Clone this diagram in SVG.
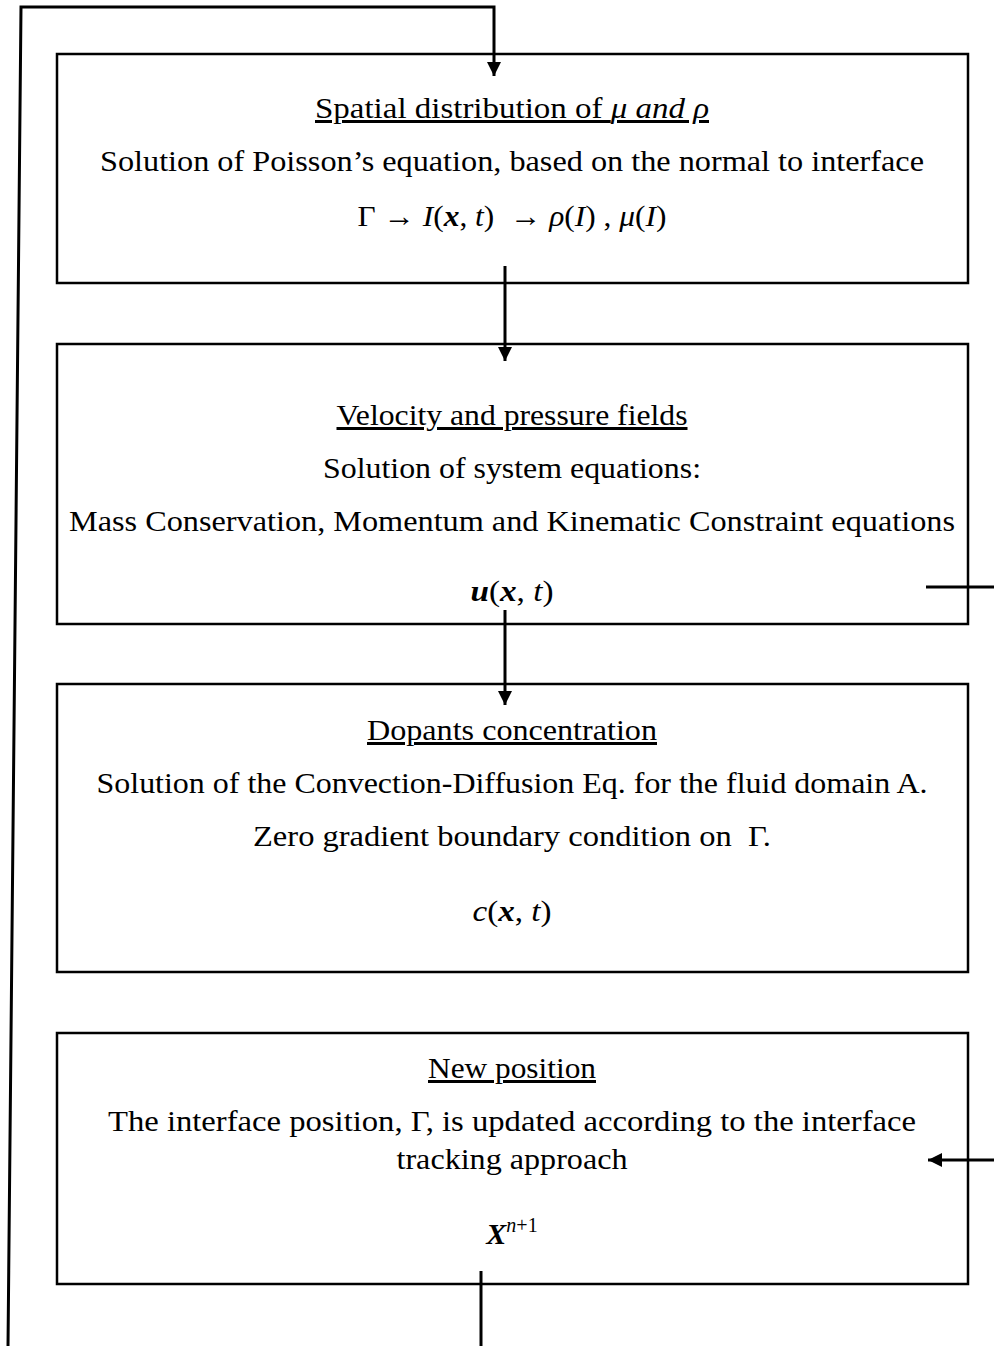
<svg xmlns="http://www.w3.org/2000/svg" width="994" height="1346" viewBox="0 0 994 1346">
<style>
.box{fill:#fff;stroke:#000;stroke-width:2.5}
.t{font-family:"Liberation Serif","DejaVu Serif",serif;font-size:30px;fill:#000;text-anchor:middle}
.u{text-decoration:underline}
.m{font-style:italic}
.b{font-style:italic;font-weight:bold}
.c{fill:none;stroke:#000;stroke-width:3}
</style>
<defs>
<marker id="ah" viewBox="0 0 10 10" refX="10" refY="5" markerWidth="14" markerHeight="14" markerUnits="userSpaceOnUse" orient="auto">
<path d="M0,0 L10,5 L0,10 z" fill="#000"/>
</marker>
</defs>
<rect width="994" height="1346" fill="#fff"/>
<g id="n1">
<rect class="box" x="57" y="54" width="911" height="229"/>
<text class="t u" x="512" y="118" textLength="394" lengthAdjust="spacingAndGlyphs">Spatial distribution of <tspan class="m">μ and ρ</tspan></text>
<text class="t" x="512" y="171" textLength="824" lengthAdjust="spacingAndGlyphs">Solution of Poisson’s equation, based on the normal to interface</text>
<text class="t" x="512" y="226" textLength="309" lengthAdjust="spacingAndGlyphs">Γ → <tspan class="m">I</tspan>(<tspan class="b">x</tspan>, <tspan class="m">t</tspan>)&#160; → <tspan class="m">ρ</tspan>(<tspan class="m">I</tspan>) , <tspan class="m">μ</tspan>(<tspan class="m">I</tspan>)</text>
</g>
<g id="n2">
<rect class="box" x="57" y="344" width="911" height="280"/>
<text class="t u" x="512" y="425" textLength="351" lengthAdjust="spacingAndGlyphs">Velocity and pressure fields</text>
<text class="t" x="512" y="478" textLength="378" lengthAdjust="spacingAndGlyphs">Solution of system equations:</text>
<text class="t" x="512" y="531" textLength="886" lengthAdjust="spacingAndGlyphs">Mass Conservation, Momentum and Kinematic Constraint equations</text>
<text class="t" x="512" y="601" textLength="83" lengthAdjust="spacingAndGlyphs"><tspan class="b">u</tspan>(<tspan class="b">x</tspan>, <tspan class="m">t</tspan>)</text>
</g>
<g id="n3">
<rect class="box" x="57" y="684" width="911" height="288"/>
<text class="t u" x="512" y="740" textLength="290" lengthAdjust="spacingAndGlyphs">Dopants concentration</text>
<text class="t" x="512" y="793" textLength="831" lengthAdjust="spacingAndGlyphs">Solution of the Convection-Diffusion Eq. for the fluid domain A.</text>
<text class="t" x="512" y="846" textLength="518" lengthAdjust="spacingAndGlyphs">Zero gradient boundary condition on&#160; Γ.</text>
<text class="t" x="512" y="921" textLength="79" lengthAdjust="spacingAndGlyphs"><tspan class="m">c</tspan>(<tspan class="b">x</tspan>, <tspan class="m">t</tspan>)</text>
</g>
<g id="n4">
<rect class="box" x="57" y="1033" width="911" height="251"/>
<text class="t u" x="512" y="1078" textLength="168" lengthAdjust="spacingAndGlyphs">New position</text>
<text class="t" x="512" y="1131" textLength="808" lengthAdjust="spacingAndGlyphs">The interface position, Γ, is updated according to the interface</text>
<text class="t" x="512" y="1169" textLength="231" lengthAdjust="spacingAndGlyphs">tracking approach</text>
<text class="t" x="512" y="1244"><tspan class="b">X</tspan><tspan class="m" font-size="20" dy="-12">n</tspan><tspan font-size="20">+1</tspan></text>
</g>
<g id="connectors">
<polyline class="c" points="8,1346 21,7 494,7 494,76" marker-end="url(#ah)"/>
<line class="c" x1="505" y1="266" x2="505" y2="361" marker-end="url(#ah)"/>
<line class="c" x1="505" y1="610" x2="505" y2="705" marker-end="url(#ah)"/>
<line class="c" x1="926" y1="587" x2="994" y2="587"/>
<line class="c" x1="994" y1="1160" x2="928" y2="1160" marker-end="url(#ah)"/>
<line class="c" x1="481" y1="1271" x2="481" y2="1346"/>
</g>
</svg>
